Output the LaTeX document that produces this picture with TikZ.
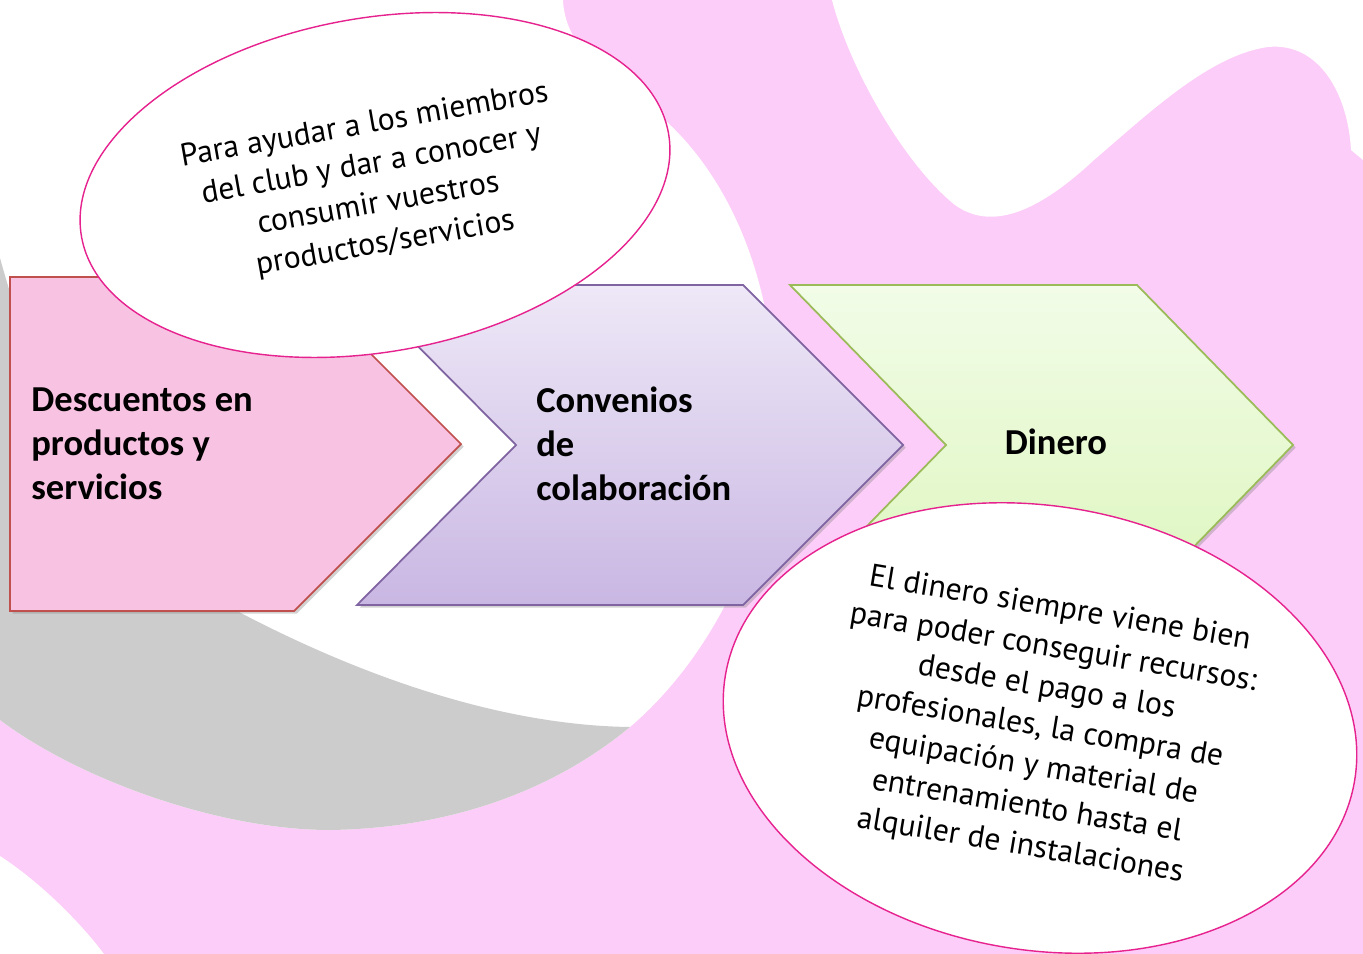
\documentclass[tikz,border=0pt]{standalone}
\usepackage{fontspec}
\newfontfamily\pfeilfont{Carlito}
\newfontfamily\blasenfont{PT Sans}
\usetikzlibrary{shapes.geometric,shadows}

\definecolor{hgrosa}{HTML}{FCCDF8}
\definecolor{hggrau}{HTML}{CCCCCC}
\definecolor{rosafill}{HTML}{F8C2E2}
\definecolor{rosarand}{HTML}{C0504D}
\definecolor{lilaoben}{HTML}{EEE8F7}
\definecolor{lilaunten}{HTML}{C9B7E3}
\definecolor{lilarand}{HTML}{8064A2}
\definecolor{gruenoben}{HTML}{F2FCE8}
\definecolor{gruenunten}{HTML}{DDF6BD}
\definecolor{gruenrand}{HTML}{9BBB59}
\definecolor{blasenrand}{HTML}{E6228F}

\begin{document}
\begin{tikzpicture}[x=0.2mm, y=-0.2mm]
  \useasboundingbox (0,0) rectangle (1363,954);
  \clip (0,0) rectangle (1363,954);

  % Hintergrund
  \fill[hgrosa] (0,0) rectangle (1363,954);
  \fill[white] (0,0) -- (563,0) .. controls (565,45) and (600,70) .. (653,110)
    .. controls (710,155) and (772,250) .. (775,400)
    .. controls (778,520) and (720,650) .. (630,727)
    .. controls (560,785) and (460,828) .. (330,830)
    .. controls (220,830) and (80,780) .. (0,720) -- cycle;
  \fill[hggrau] (0,258) .. controls (50,440) and (130,560) .. (237,611)
    .. controls (330,660) and (480,725) .. (630,727)
    .. controls (560,785) and (460,828) .. (330,830)
    .. controls (220,830) and (80,780) .. (0,720) -- cycle;
  \fill[white] (832,0) .. controls (850,70) and (905,165) .. (955,205)
    .. controls (990,230) and (1035,215) .. (1094,160)
    .. controls (1150,112) and (1210,55) .. (1268,47)
    .. controls (1320,42) and (1348,95) .. (1351,150)
    -- (1363,160) -- (1363,0) -- cycle;
  \fill[white] (0,856) .. controls (40,882) and (80,922) .. (104,954) -- (0,954) -- cycle;

  \tikzstyle{pfeil}=[line width=1pt, line join=miter,
    drop shadow={opacity=0.35, shadow xshift=1.5pt, shadow yshift=-1.5pt}]
  \tikzstyle{pfeiltext}=[inner sep=0pt, align=left,
    font=\pfeilfont\fontsize{20.8}{25}\selectfont\bfseries]

  % Pfeile
  \draw[pfeil, draw=rosarand, fill=rosafill]
    (10,277) -- (294,277) -- (461,444) -- (294,611) -- (10,611) -- cycle;
  \draw[pfeil, draw=lilarand, top color=lilaoben, bottom color=lilaunten]
    (357,285) -- (743,285) -- (903,445) -- (743,605) -- (357,605) -- (516,445) -- cycle;
  \draw[pfeil, draw=gruenrand, top color=gruenoben, bottom color=gruenunten]
    (790,285) -- (1137,285) -- (1293,445) -- (1137,605) -- (790,605) -- (946,445) -- cycle;

  \node[pfeiltext, anchor=west] (rabatt) at (31,444) {Descuentos en\\productos y\\servicios};
  \node[pfeiltext, anchor=west] (convenio) at (536,444) {Convenios\\de\\colaboración};
  \node[pfeiltext, anchor=base] (dinero) at (1056,454) {Dinero};

  % Blasen
  \tikzstyle{blase}=[ellipse, draw=blasenrand, line width=0.8pt, fill=white,
    inner sep=0pt, align=center, font=\blasenfont\fontsize{18}{22.8}\selectfont]

  \node[blase, rotate=10, minimum width=119.2mm, minimum height=66.8mm] (zweck) at (375,185)
    {Para ayudar a los miembros\\del club y dar a conocer y\\consumir vuestros\\productos/servicios};
  \node[blase, rotate=-9.5, minimum width=127.6mm, minimum height=88.8mm] (geld) at (1040,728)
    {El dinero siempre viene bien\\para poder conseguir recursos:\\desde el pago a los\\profesionales, la compra de\\equipación y material de\\entrenamiento hasta el\\alquiler de instalaciones};
\end{tikzpicture}
\end{document}
